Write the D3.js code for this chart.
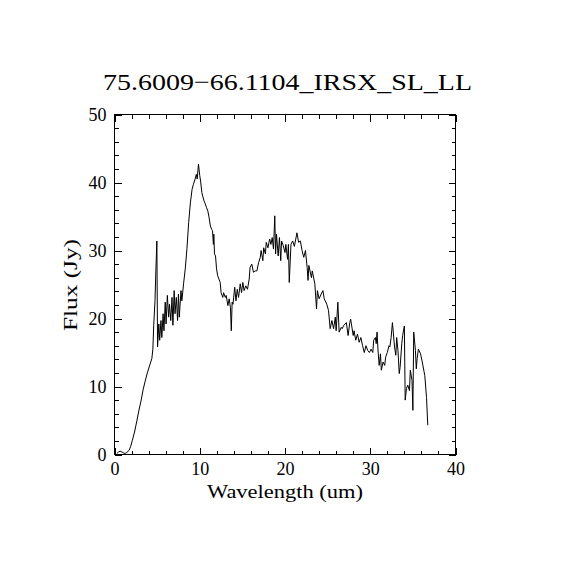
<!DOCTYPE html>
<html>
<head>
<meta charset="utf-8">
<script src="https://cdn.jsdelivr.net/npm/d3@7"></script>
<style>
  body { margin: 0; background: #fff; }
  text { font-family: "Liberation Serif", serif; fill: #000; }
</style>
</head>
<body>
<div id="chart-area"></div>
<script>
// spectrum
const wavelength = [0.28, 0.5, 0.67, 0.9, 1.1, 1.25, 1.45, 1.72, 1.9, 2.1, 2.35, 2.6, 2.85, 3.13, 3.35, 3.6, 3.85, 4.1, 4.38, 4.5, 4.6, 4.75, 4.85, 4.97,
  5.05, 5.2, 5.3, 5.45, 5.55, 5.7, 5.8, 5.95, 6.05, 6.2, 6.35, 6.45, 6.6, 6.75, 6.85, 7.0, 7.1, 7.25, 7.4, 7.5, 7.6, 7.8, 7.9, 8.1, 8.3, 8.5, 8.7, 8.9,
  9.1, 9.25, 9.45, 9.6, 9.7, 9.85, 10.0, 10.1, 10.25, 10.35, 10.5, 10.6, 10.8, 10.95, 11.1, 11.25, 11.4, 11.5, 11.6, 11.65, 11.73, 11.85, 11.97,
  12.1, 12.25, 12.4, 12.5, 12.7, 12.8, 13.0, 13.1, 13.3, 13.45, 13.6, 13.7, 13.8, 13.9, 14.1, 14.25, 14.4, 14.55, 14.75, 14.9, 15.05, 15.2, 15.4,
  15.6, 15.8, 15.9, 16.1, 16.3, 16.5, 16.7, 16.9, 17.1, 17.2, 17.4, 17.5, 17.7, 17.8, 18.0, 18.2, 18.35, 18.5, 18.65, 18.8, 18.9, 19.0, 19.2, 19.35,
  19.5, 19.6, 19.8, 20.0, 20.1, 20.3, 20.4, 20.5, 20.7, 20.9, 21.1, 21.4, 21.6, 21.8, 22.0, 22.2, 22.4, 22.6, 22.7, 22.8, 23.1, 23.2, 23.5, 23.7,
  23.8, 24.0, 24.25, 24.45, 24.6, 24.9, 25.1, 25.3, 25.5, 25.7, 25.9, 26.0, 26.2, 26.35, 26.6, 26.7, 26.9, 27.2, 27.4, 27.6, 27.7, 28.0, 28.1, 28.3,
  28.5, 28.7, 28.9, 29.1, 29.3, 29.5, 29.7, 29.9, 30.1, 30.3, 30.4, 30.6, 30.7, 30.8, 30.9, 31.05, 31.2, 31.3, 31.5, 31.7, 31.8, 32.0, 32.2, 32.3,
  32.45, 32.6, 32.7, 32.85, 33.0, 33.1, 33.25, 33.4, 33.5, 33.7, 33.8, 34.0, 34.1, 34.25, 34.4, 34.6, 34.7, 34.9, 35.0, 35.1, 35.3, 35.4, 35.5,
  35.65, 35.9, 36.1, 36.4, 36.6, 36.75];

const flux = [0.15, 0.4, 0.48, 0.35, 0.2, 0.15, 0.3, 0.63, 1.2, 2.1, 3.3, 4.8, 6.4, 8.0, 9.5, 10.8, 12.0, 13.0, 14.1, 15.5, 19.0, 22.6, 27.0, 31.4,
  15.8, 19.2, 16.8, 19.7, 17.2, 20.7, 18.2, 22.4, 19.2, 23.4, 20.2, 22.1, 19.7, 23.1, 19.0, 24.1, 20.7, 23.1, 19.7, 23.6, 20.2, 24.1, 22.6, 25.1, 27.3, 30.3, 34.1, 37.0,
  39.0, 39.7, 40.5, 41.2, 40.5, 42.7, 41.0, 40.2, 38.5, 38.0, 37.3, 37.0, 36.3, 35.8, 34.8, 33.6, 33.1, 32.9, 30.9, 32.4, 29.5, 29.2, 27.3,
  26.3, 25.8, 25.3, 23.8, 23.1, 23.8, 23.1, 23.4, 21.9, 22.9, 21.6, 18.2, 22.4, 22.1, 24.6, 22.6, 24.3, 23.1, 25.1, 23.8, 25.3, 24.1, 24.8,
  24.3, 25.8, 27.5, 28.0, 26.8, 27.0, 27.0, 28.2, 29.0, 30.0, 28.5, 30.4, 29.5, 31.2, 30.4, 31.7, 30.9, 31.9, 30.2, 35.1, 29.5, 32.4, 29.2, 31.9,
  28.5, 31.4, 30.7, 29.7, 30.9, 28.7, 30.9, 25.3, 30.9, 31.4, 30.6, 32.6, 31.2, 31.4, 30.0, 29.0, 30.0, 27.5, 25.6, 27.8, 26.0, 27.0, 25.1, 21.4,
  24.1, 22.9, 23.6, 24.1, 22.9, 22.1, 21.2, 18.5, 19.7, 18.5, 20.2, 18.2, 22.4, 18.0, 18.7, 18.5, 19.0, 19.4, 17.5, 19.4, 19.9, 17.5, 18.2, 16.8,
  17.7, 16.5, 17.2, 16.0, 15.0, 16.0, 15.3, 15.0, 15.5, 15.0, 16.8, 17.2, 16.3, 18.0, 15.5, 13.1, 14.8, 12.4, 13.6, 13.1, 14.3, 15.0, 16.0, 15.8,
  17.2, 19.4, 18.0, 15.8, 14.6, 17.2, 15.3, 11.9, 12.8, 16.3, 17.5, 18.9, 8.0, 9.7, 10.2, 9.4, 12.4, 10.9, 6.5, 18.0, 15.3, 12.6, 14.1,
  15.5, 14.8, 13.6, 11.6, 8.4, 4.3];

const xMajor = [0, 10, 20, 30, 40];
const xMinor = [2, 4, 6, 8, 12, 14, 16, 18, 22, 24, 26, 28, 32, 34, 36, 38];
const yMajor = [0, 10, 20, 30, 40, 50];
const yMinor = [2, 4, 6, 8, 12, 14, 16, 18, 22, 24, 26, 28, 32, 34, 36, 38, 42, 44, 46, 48];

const title = '75.6009\u221266.1104_IRSX_SL_LL';

const W = 570, H = 570;
const plotL = 114.5, plotR = 455.5, plotT = 114.5, plotB = 454.5;

const svg = d3.select('#chart-area').append('svg')
  .attr('width', W)
  .attr('height', H);

const x = d3.scaleLinear().domain([0, 40]).range([plotL, plotR]);
const y = d3.scaleLinear().domain([0, 50]).range([plotB, plotT]);

// frame
svg.append('rect')
  .attr('x', plotL).attr('y', plotT)
  .attr('width', plotR - plotL).attr('height', plotB - plotT)
  .attr('fill', 'none').attr('stroke', '#000').attr('stroke-width', 1);

function drawAxis(axis, tx, ty, labels) {
  const g = svg.append('g').attr('transform', `translate(${tx},${ty})`).call(axis);
  g.select('.domain').remove();
  g.selectAll('line').attr('stroke', '#000').attr('shape-rendering', 'crispEdges');
  if (!labels) g.selectAll('text').remove();
  else g.selectAll('text').attr('font-size', 18).attr('font-family', '"Liberation Serif", serif').attr('fill', '#000');
  return g;
}

// bottom / top
drawAxis(d3.axisBottom(x).tickValues(xMajor).tickFormat(d3.format('d')).tickSize(-7).tickPadding(8), 0, plotB, true);
drawAxis(d3.axisBottom(x).tickValues(xMinor).tickSize(-4), 0, plotB, false);
drawAxis(d3.axisTop(x).tickValues(xMajor).tickSize(-7), 0, plotT, false);
drawAxis(d3.axisTop(x).tickValues(xMinor).tickSize(-4), 0, plotT, false);

// left / right
drawAxis(d3.axisLeft(y).tickValues(yMajor).tickFormat(d3.format('d')).tickSize(-7).tickPadding(8), plotL, 0, true);
drawAxis(d3.axisLeft(y).tickValues(yMinor).tickSize(-4), plotL, 0, false);
drawAxis(d3.axisRight(y).tickValues(yMajor).tickSize(-7), plotR, 0, false);
drawAxis(d3.axisRight(y).tickValues(yMinor).tickSize(-4), plotR, 0, false);

// spectrum
const line = d3.line()
  .x((d, i) => x(wavelength[i]))
  .y(d => y(d));

svg.append('path')
  .datum(flux)
  .attr('fill', 'none')
  .attr('stroke', '#000')
  .attr('stroke-width', 1)
  .attr('stroke-linejoin', 'miter')
  .attr('d', line);

// titles
svg.append('text')
  .attr('x', 287.5).attr('y', 90)
  .attr('text-anchor', 'middle')
  .attr('font-size', 24)
  .attr('textLength', 369).attr('lengthAdjust', 'spacingAndGlyphs')
  .text(title);

svg.append('text')
  .attr('x', 285).attr('y', 498)
  .attr('text-anchor', 'middle')
  .attr('font-size', 18)
  .attr('textLength', 156).attr('lengthAdjust', 'spacingAndGlyphs')
  .text('Wavelength (um)');

svg.append('text')
  .attr('transform', 'translate(77,285) rotate(-90)')
  .attr('text-anchor', 'middle')
  .attr('font-size', 18)
  .attr('textLength', 92).attr('lengthAdjust', 'spacingAndGlyphs')
  .text('Flux (Jy)');
</script>
</body>
</html>
